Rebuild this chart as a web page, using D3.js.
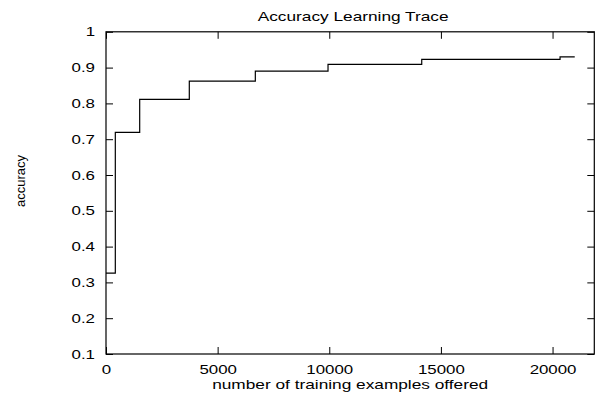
<!DOCTYPE html>
<html>
<head>
<meta charset="utf-8">
<script src="https://cdn.jsdelivr.net/npm/d3@7"></script>
<style>
  body { margin: 0; background: #fff; }
  svg { display: block; }
  text { font-family: "Liberation Sans", Arial, sans-serif; fill: #000; }
  .axis path, .axis line { stroke: #000; }
</style>
</head>
<body>
<svg width="597" height="393"></svg>
<script>
// step trace
var examples = [0, 417, 1509, 3731, 6688, 9944, 14141, 20336, 20994];
var accuracy = [0.326, 0.719, 0.811, 0.862, 0.890, 0.909, 0.923, 0.930, 0.930];
var xTicks = [0, 5000, 10000, 15000, 20000];
var yTicks = [0.1, 0.2, 0.3, 0.4, 0.5, 0.6, 0.7, 0.8, 0.9, 1];

var svg = d3.select('svg');
var svgWidth = +svg.attr('width');
var svgHeight = +svg.attr('height');
var padding = {t: 31.8, r: 2.7, b: 39, l: 106};
var chartWidth = svgWidth - padding.l - padding.r;
var chartHeight = svgHeight - padding.t - padding.b;
var stretch = 1.35; // text in the picture is widened horizontally

var chartG = svg.append('g')
    .attr('transform', 'translate(' + [padding.l, padding.t] + ')');

var xScale = d3.scaleLinear().domain([0, 21870]).range([0, chartWidth]);
var yScale = d3.scaleLinear().domain([0.1, 1]).range([chartHeight, 0]);

var fmtY = function(d){ return d === 1 ? '1' : d3.format('.1f')(d); };

// bottom axis with labels, ticks pointing inward
var xAxisG = chartG.append('g')
    .attr('class', 'x axis')
    .attr('transform', 'translate(0,' + chartHeight + ')')
    .call(d3.axisBottom(xScale).tickValues(xTicks).tickSize(-7).tickSizeOuter(0).tickFormat(d3.format('d')));
xAxisG.selectAll('text')
    .attr('y', 11)
    .style('font-size', '12.5px')
    .attr('transform', 'scale(' + stretch + ',1)');

// top axis, mirror ticks only
chartG.append('g')
    .attr('class', 'x axis')
    .call(d3.axisTop(xScale).tickValues(xTicks).tickSize(-7).tickSizeOuter(0).tickFormat(''));

// left axis with labels
var yAxisG = chartG.append('g')
    .attr('class', 'y axis')
    .call(d3.axisLeft(yScale).tickValues(yTicks).tickSize(-7).tickSizeOuter(0).tickFormat(fmtY));
yAxisG.selectAll('text')
    .attr('x', -11 / stretch)
    .style('font-size', '12.5px')
    .attr('transform', 'scale(' + stretch + ',1)');

// right axis, mirror ticks only
chartG.append('g')
    .attr('class', 'y axis')
    .attr('transform', 'translate(' + chartWidth + ',0)')
    .call(d3.axisRight(yScale).tickValues(yTicks).tickSize(-7).tickSizeOuter(0).tickFormat(''));

chartG.selectAll('.axis .domain').remove();

// frame
chartG.append('rect')
    .attr('x', 0).attr('y', 0)
    .attr('width', chartWidth).attr('height', chartHeight)
    .style('fill', 'none')
    .style('stroke', '#000')
    .style('stroke-width', 1.2);

// the trace
var trace = examples.map(function(d, i){ return [d, accuracy[i]]; });
var line = d3.line()
    .x(function(d){ return xScale(d[0]); })
    .y(function(d){ return yScale(d[1]); })
    .curve(d3.curveStepAfter);
chartG.append('path')
    .datum(trace)
    .attr('d', line)
    .style('fill', 'none')
    .style('stroke', '#000')
    .style('stroke-width', 1.2);

// title and axis labels
svg.append('text')
    .attr('transform', 'translate(' + (padding.l + chartWidth / 2 + 3) + ',20.5) scale(' + stretch + ',1)')
    .attr('text-anchor', 'middle')
    .style('font-size', '12.8px')
    .text('Accuracy Learning Trace');

svg.append('text')
    .attr('transform', 'translate(' + (padding.l + chartWidth / 2) + ',389) scale(' + stretch + ',1)')
    .attr('text-anchor', 'middle')
    .style('font-size', '12.8px')
    .text('number of training examples offered');

svg.append('text')
    .attr('transform', 'translate(24.5,181) rotate(-90)')
    .attr('text-anchor', 'middle')
    .style('font-size', '13px')
    .text('accuracy');
</script>
</body>
</html>
